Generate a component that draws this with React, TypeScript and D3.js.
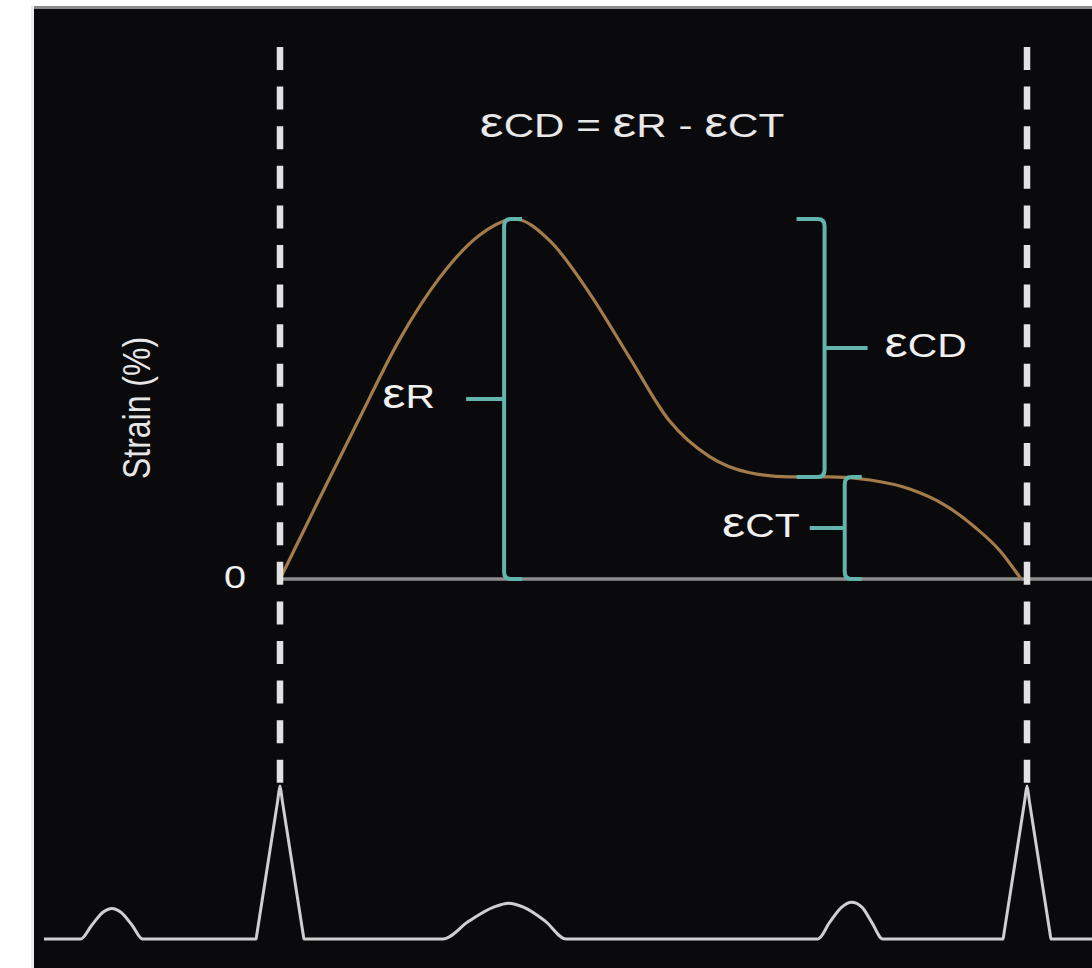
import React from "react";
import * as d3 from "d3";

// One cardiac cycle, R peak to R peak, in milliseconds
const cycleBounds = [0, 1000];

// Myocardial strain curve over the cycle (time in ms, strain in %)
const strainTime = [0, 52, 106, 160, 213, 267, 314, 361, 414, 468, 521, 575, 629, 682, 736, 790, 843, 890, 930, 964, 992];
const strainValue = [0, 4.4, 8.9, 13.3, 16.7, 19.1, 20.0, 18.8, 15.9, 12.3, 8.8, 6.8, 5.9, 5.67, 5.67, 5.5, 5.0, 4.11, 2.89, 1.56, 0];

// Reference ECG trace (time in ms, amplitude normalised to the R wave)
const ecgTime = [
  -316, -267, -252, -237, -225, -213, -198, -184,
  -32, -31, -3, 0, 3, 31, 32,
  218, 253, 286, 306, 326, 355, 383,
  720, 736, 752, 765, 779, 792, 807,
  968, 969, 997, 1000, 1003, 1031, 1032, 1087,
];
const ecgValue = [
  0, 0, 0.09, 0.175, 0.2, 0.175, 0.09, 0,
  0, 0.031, 0.906, 1, 0.906, 0.031, 0,
  0, 0.117, 0.208, 0.234, 0.208, 0.117, 0,
  0, 0.11, 0.208, 0.24, 0.208, 0.11, 0,
  0, 0.031, 0.906, 1, 0.906, 0.031, 0, 0,
];

// Strain components: reservoir, conduit and contraction
const epsR = 20;
const epsCT = 5.67;
const epsCD = epsR - epsCT;

const bracketNames = ["R", "CD", "CT"];
const bracketTime = [300, 729, 756];
const bracketLow = [0, epsCT, 0];
const bracketHigh = [epsR, epsCT + epsCD, epsCT];
const bracketSide = [1, -1, 1]; // +1: hooks open to the right, label on the left

const zeroTick = ["0"];
const yTitle = "Strain (%)";

const W = 1092;
const H = 968;
const SX = 1.24; // horizontal glyph stretch
const FONT = "'Liberation Sans', Arial, Helvetica, sans-serif";
const TEAL = "#63b4ac";

function Eps({ size }: { size: number }) {
  return <tspan fontSize={size}>ε</tspan>;
}

function bracePath(x: number, y1: number, y2: number, dir: number, hook: number, r: number) {
  return (
    `M${x + dir * hook},${y1} L${x + dir * r},${y1} Q${x},${y1} ${x},${y1 + r} ` +
    `L${x},${y2 - r} Q${x},${y2} ${x + dir * r},${y2} L${x + dir * hook},${y2}`
  );
}

export default function App() {
  const x = d3.scaleLinear().domain(cycleBounds).range([280, 1027]);
  const yS = d3.scaleLinear().domain([0, 20]).range([579, 219]);
  const yE = d3.scaleLinear().domain([0, 1]).range([939, 786]);

  const strainLine = d3
    .line<number>()
    .x((_, i) => x(strainTime[i]))
    .y((d) => yS(d))
    .curve(d3.curveMonotoneX);

  const ecgLine = d3
    .line<number>()
    .x((_, i) => x(ecgTime[i]))
    .y((d) => yE(d))
    .curve(d3.curveMonotoneX);

  const dashTop = 47;
  const dashBottom = yE(1) - 3;

  const hooks = [18, 28, 17];
  const ticks = [38, 43, 35];
  const gaps = [31, 17, 10];

  return (
    <svg
      width={W}
      height={H}
      style={{ position: "absolute", left: 0, top: 0, display: "block" }}
      fontFamily={FONT}
    >
      <rect x={0} y={0} width={W} height={H} fill="#ffffff" />
      <rect x={31} y={6} width={3} height={H - 6} fill="#ececec" />
      <rect x={34} y={6} width={W - 34} height={H - 6} fill="#8a8a8a" />
      <rect x={34} y={9} width={W - 34} height={H - 9} fill="#0a0a0d" />

      {/* zero strain line */}
      <line x1={x(0)} x2={W} y1={yS(0)} y2={yS(0)} stroke="#8c8c8c" strokeWidth={3.5} />

      {/* strain curve */}
      <path d={strainLine(strainValue) || ""} fill="none" stroke="#a47c4b" strokeWidth={3.2} />

      {/* component brackets */}
      {bracketNames.map((name, i) => {
        const bx = x(bracketTime[i]);
        const yTop = yS(bracketHigh[i]);
        const yBot = yS(bracketLow[i]);
        const yMid = (yTop + yBot) / 2;
        const dir = bracketSide[i];
        const tickEnd = bx - dir * ticks[i];
        const labelX = tickEnd - dir * gaps[i];
        return (
          <g key={name}>
            <path d={bracePath(bx, yTop, yBot, dir, hooks[i], 7)} fill="none" stroke={TEAL} strokeWidth={4} />
            <line x1={bx} x2={tickEnd} y1={yMid} y2={yMid} stroke={TEAL} strokeWidth={4} />
            <text
              transform={`translate(${labelX},${yMid + 9}) scale(${SX},1)`}
              textAnchor={dir > 0 ? "end" : "start"}
              fontSize={33}
              fill="#f0f0f0"
            >
              <Eps size={42} />
              {name}
            </text>
          </g>
        );
      })}

      {/* formula */}
      <text transform={`translate(632,137) scale(${SX},1)`} textAnchor="middle" fontSize={34} fill="#e8e8e8">
        <Eps size={43} />CD = <Eps size={43} />R - <Eps size={43} />CT
      </text>

      {/* axis labels */}
      <text transform={`translate(235,588) scale(${SX},1)`} textAnchor="middle" fontSize={32} fill="#f0f0f0">
        {zeroTick[0]}
      </text>
      <text
        transform={`translate(150,408) scale(${SX},1) rotate(-90)`}
        textAnchor="middle"
        fontSize={32}
        fill="#e6e6e6"
      >
        {yTitle}
      </text>

      {/* ECG trace */}
      <path d={ecgLine(ecgValue) || ""} fill="none" stroke="#cfcfcf" strokeWidth={3} strokeLinejoin="round" />

      {/* R-peak markers */}
      {cycleBounds.map((t) => (
        <line
          key={t}
          x1={x(t)}
          x2={x(t)}
          y1={dashTop}
          y2={dashBottom}
          stroke="#e2e2e2"
          strokeWidth={6.5}
          strokeDasharray="23 16.6"
        />
      ))}
    </svg>
  );
}
